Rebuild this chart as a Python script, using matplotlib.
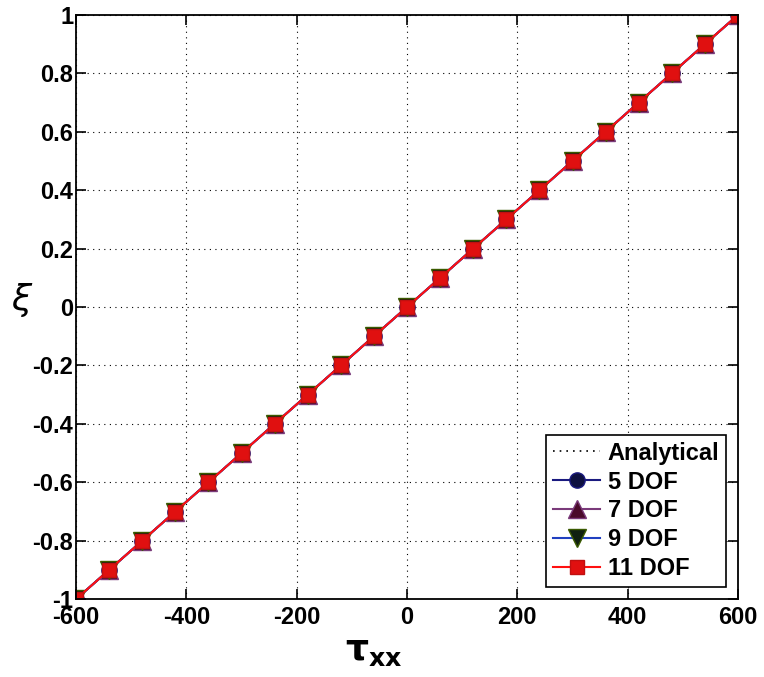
import numpy as np
import matplotlib.pyplot as plt

plt.rcParams["font.family"] = ["Liberation Sans", "DejaVu Sans"]
plt.rcParams["axes.unicode_minus"] = False

# data
tau_xx = [-600, -540, -480, -420, -360, -300, -240, -180, -120, -60, 0,
          60, 120, 180, 240, 300, 360, 420, 480, 540, 600]
xi_analytical = [-1.0, -0.9, -0.8, -0.7, -0.6, -0.5, -0.4, -0.3, -0.2, -0.1, 0.0,
                 0.1, 0.2, 0.3, 0.4, 0.5, 0.6, 0.7, 0.8, 0.9, 1.0]
xi_5dof = list(xi_analytical)
xi_7dof = list(xi_analytical)
xi_9dof = list(xi_analytical)
xi_11dof = list(xi_analytical)

fig = plt.figure(figsize=(7.64, 6.77), dpi=100)
ax = fig.add_axes([0.0995, 0.115, 0.8665, 0.863])

ax.plot(tau_xx, xi_analytical, color="black", linestyle=(0, (1, 3)), lw=1.2, label="Analytical")
ax.plot(tau_xx, xi_5dof, color="#1a1a80", marker="o", ms=11, mfc="#0d1040", mec="#1a1a80",
        lw=1.5, label="5 DOF")
ax.plot(tau_xx, xi_7dof, color="#7a3a7a", marker="^", ms=13, mfc="#4a0a2a", mec="#7a3a7a",
        lw=1.5, label="7 DOF")
ax.plot(tau_xx, xi_9dof, color="#2040c0", marker="v", ms=13, mfc="#102010", mec="#3a5a00",
        lw=1.5, label="9 DOF")
ax.plot(tau_xx, xi_11dof, color="#ff1010", marker="s", ms=10, mfc="#e01010", mec="#c01010",
        lw=1.5, label="11 DOF")

ax.set_xlim(-600, 600)
ax.set_ylim(-1, 1)
ax.set_xticks(np.arange(-600, 601, 200))
ax.set_yticks(np.arange(-1, 1.01, 0.2))
ax.set_yticklabels(["-1", "-0.8", "-0.6", "-0.4", "-0.2", "0", "0.2", "0.4", "0.6", "0.8", "1"])
ax.set_xticklabels(["-600", "-400", "-200", "0", "200", "400", "600"])
ax.grid(True, color="black", linestyle=(0, (1, 4)), lw=0.8)
ax.tick_params(direction="in", top=True, right=True, length=7, width=1.2,
               labelsize=17)
ax.tick_params(axis="y", pad=2)
ax.tick_params(axis="x", pad=5)
for lab in ax.get_xticklabels() + ax.get_yticklabels():
    lab.set_fontweight("bold")
for sp in ax.spines.values():
    sp.set_linewidth(1.3)

ax.set_xlabel(r"$\mathbf{\tau_{xx}}$", fontsize=26)
ax.xaxis.set_label_coords(0.45, -0.058)
# upright xi label, placed by hand
fig.text(22 / 764, 1 - 300 / 677, r"$\xi$", fontsize=26, rotation=0,
         ha="center", va="center")

leg = ax.legend(loc="lower right", prop={"weight": "bold", "size": 17},
                fancybox=False, edgecolor="black", framealpha=1, handlelength=2.0,
                borderaxespad=0.5, labelspacing=0.25, handletextpad=0.3,
                borderpad=0.3, markerscale=1.0)
leg.get_frame().set_linewidth(1.2)

fig.savefig("out.png", dpi=100)
